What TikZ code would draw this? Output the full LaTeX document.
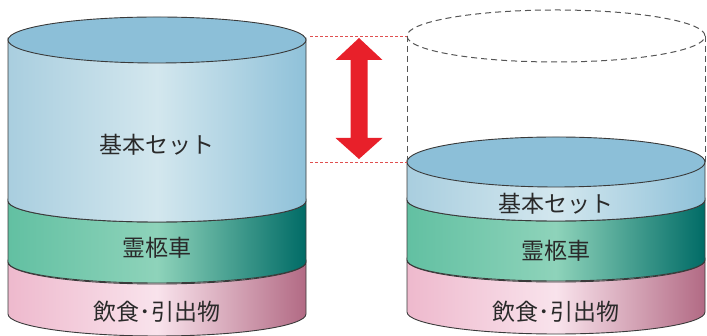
\documentclass[tikz,border=0pt]{standalone}
\usepackage{fontspec}
\newfontfamily\jp{Noto Sans CJK JP}
\definecolor{outl}{HTML}{3A3A3A}
\definecolor{txt}{HTML}{2A2A2A}
\definecolor{blueL}{HTML}{A9CEDF}
\definecolor{blueM}{HTML}{D3E7EE}
\definecolor{blueR}{HTML}{8FC1D9}
\definecolor{blueTop}{HTML}{8CBFD8}
\definecolor{greenL}{HTML}{62C0A2}
\definecolor{greenM}{HTML}{8ED3BA}
\definecolor{greenR}{HTML}{006B66}
\definecolor{pinkL}{HTML}{EEB9CD}
\definecolor{pinkM}{HTML}{F9E3EC}
\definecolor{pinkR}{HTML}{B26A84}
\definecolor{arrred}{HTML}{E8202A}
\definecolor{guide}{HTML}{E05050}
\definecolor{ghost}{HTML}{555555}
\newcommand\cylband[5]{% cx, top Y, bottom Y, ry, style
  \path[#5] ({#1-149},#2) -- ({#1-149},#3)
    arc[start angle=180,end angle=360,x radius=149pt,y radius=#4pt]
    -- ({#1+149},#2)
    arc[start angle=0,end angle=-180,x radius=149pt,y radius=#4pt] -- cycle;}
\begin{document}
\begin{tikzpicture}[x=1pt,y=1pt,
  edge/.style={draw=outl,line width=0.9pt},
  blueband/.style={edge,left color=blueL,right color=blueR,middle color=blueM},
  greenband/.style={edge,left color=greenL,right color=greenR,middle color=greenM},
  pinkband/.style={edge,left color=pinkL,right color=pinkR,middle color=pinkM},
  toplid/.style={edge,fill=blueTop},
  label/.style={font=\jp\fontsize{23}{23}\selectfont,text=txt,inner sep=0pt},
  guideline/.style={draw=guide,line width=0.7pt,dash pattern=on 3pt off 2pt},
  ghostline/.style={draw=ghost,line width=1pt,dash pattern=on 6pt off 4pt}]
\useasboundingbox (0,0) rectangle (707,336);
% left cylinder
\cylband{157}{74}{22}{22}{pinkband}
\cylband{157}{135}{74}{21}{greenband}
\cylband{157}{296}{135}{21}{blueband}
\path[toplid] (157,296) ellipse[x radius=149pt,y radius=23pt];
\node[label] (lbase) at (157,191) {基本セット};
\node[label] (lhearse) at (157,88) {霊柩車};
\node[label] (lfood) at (157,24) {飲食･引出物};
% right cylinder
\cylband{556}{76}{24}{22}{pinkband}
\cylband{556}{136}{76}{21}{greenband}
\cylband{556}{174}{136}{21}{blueband}
\path[toplid] (556,174) ellipse[x radius=149pt,y radius=25pt];
\path[ghostline] (556,300) ellipse[x radius=149pt,y radius=26pt];
\coordinate (gtl) at (407,300);
\coordinate (gbl) at (407,174);
\coordinate (gtr) at (705,300);
\coordinate (gbr) at (705,174);
\draw[ghostline] (gtl) -- (gbl);
\draw[ghostline] (gtr) -- (gbr);
\node[label] (rbase) at (556,132) {基本セット};
\node[label] (rhearse) at (556,85) {霊柩車};
\node[label] (rfood) at (556,24) {飲食･引出物};
% guides
\coordinate (g1a) at (310,300);
\coordinate (g2a) at (310,174);
\draw[guideline] (g1a) -- (gtl);
\draw[guideline] (g2a) -- (gbl);
% double arrow
\fill[arrred] (359,298) -- (382.5,276) -- (367.5,276) -- (367.5,198) -- (382.5,198)
  -- (359,177) -- (335.5,198) -- (350.5,198) -- (350.5,276) -- (335.5,276) -- cycle;
\end{tikzpicture}
\end{document}
